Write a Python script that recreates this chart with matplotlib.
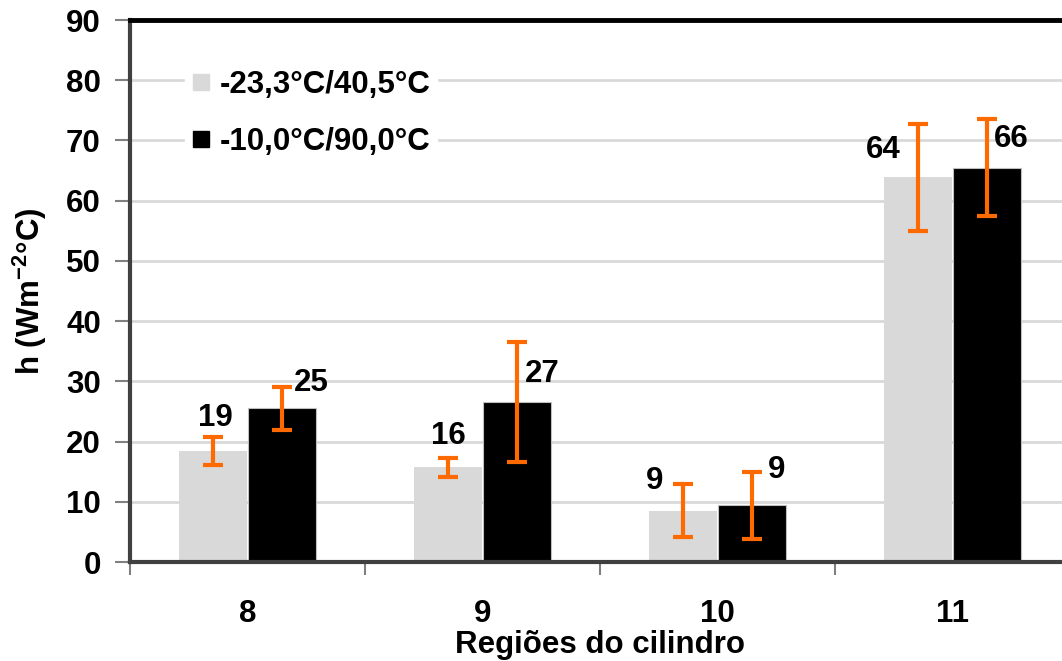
import matplotlib
matplotlib.use("Agg")
import matplotlib.pyplot as plt
import numpy as np
from matplotlib.lines import Line2D

# ---- data ----
categories = ["8", "9", "10", "11"]
series_names = ["-23,3°C/40,5°C", "-10,0°C/90,0°C"]
values_a = [18.4, 15.7, 8.5, 63.9]
values_b = [25.5, 26.6, 9.4, 65.5]
err_a = [2.3, 1.6, 4.4, 8.9]
err_b = [3.6, 10.0, 5.5, 8.0]
labels_a = ["19", "16", "9", "64"]
labels_b = ["25", "27", "9", "66"]
yticks = [0, 10, 20, 30, 40, 50, 60, 70, 80, 90]
xlabel = "Regiões do cilindro"
ylabel = "h (Wm$^{-2}$°C)"

# label offsets (pixels, relative to error-bar top)
offs_a = [(2, 19), (0, 22), (-29, 3), (-35, -26)]
offs_b = [(30, 4), (25, -32), (25, 2), (24, -20)]

plt.rcParams["font.family"] = ["Liberation Sans", "DejaVu Sans"]
plt.rcParams["font.weight"] = "bold"
plt.rcParams["mathtext.fontset"] = "custom"
plt.rcParams["mathtext.rm"] = "Liberation Sans:bold"
plt.rcParams["mathtext.default"] = "rm"

FS = 22.5
fig = plt.figure(figsize=(10.62, 6.61), dpi=100)
ax = fig.add_axes([130 / 1062, 1 - 562 / 661, 940 / 1062, 542 / 661])

x = np.arange(len(categories))
w = 0.29
off = 0.146
light = "#d9d9d9"
orange = "#ff6a00"

ax.bar(x - off, values_a, width=w, color=light, zorder=2)
ax.bar(x + off, values_b, width=w, color="black", edgecolor="#bfbfbf", linewidth=0.8, zorder=2)
ekw = dict(fmt="none", ecolor=orange, elinewidth=3, capsize=7, capthick=3, zorder=3)
ax.errorbar(x - off, values_a, yerr=err_a, **ekw)
ax.errorbar(x + off, values_b, yerr=err_b, **ekw)

px2pt = 72 / 100
for xi, v, e, lab, (dx, dy) in zip(x - off, values_a, err_a, labels_a, offs_a):
    ax.annotate(lab, xy=(xi, v + e), xytext=(dx * px2pt, dy * px2pt), textcoords="offset points",
                ha="center", va="center", fontsize=FS, fontweight="bold", zorder=4)
for xi, v, e, lab, (dx, dy) in zip(x + off, values_b, err_b, labels_b, offs_b):
    ax.annotate(lab, xy=(xi, v + e), xytext=(dx * px2pt, dy * px2pt), textcoords="offset points",
                ha="center", va="center", fontsize=FS, fontweight="bold", zorder=4)

ax.set_xlim(-0.5, 3.5)
ax.set_ylim(0, 90)
ax.set_yticks(yticks)
ax.set_yticklabels([str(t) for t in yticks], fontsize=FS, fontweight="bold")
ax.set_xticks(x)
ax.set_xticklabels(categories, fontsize=FS, fontweight="bold")
ax.set_xticks(np.arange(-0.5, 4.0, 1.0), minor=True)
ax.tick_params(axis="x", which="major", length=0, pad=27)
ax.tick_params(axis="x", which="minor", length=9, width=1.5, color="#808080", direction="out")
ax.tick_params(axis="y", which="major", length=11, width=1.5, color="#808080", pad=10)

ax.yaxis.grid(True, color="#d9d9d9", linewidth=2, zorder=0)
ax.set_axisbelow(True)

ax.spines["right"].set_visible(False)
ax.spines["top"].set_color("black")
ax.spines["top"].set_linewidth(3.5)
ax.spines["left"].set_color("#404040")
ax.spines["left"].set_linewidth(3)
ax.spines["bottom"].set_color("#404040")
ax.spines["bottom"].set_linewidth(3)

ax.set_xlabel(xlabel, fontsize=FS, fontweight="bold", labelpad=0)
ax.set_ylabel(ylabel, fontsize=FS, fontweight="bold", labelpad=12)

handles = [Line2D([], [], marker="s", linestyle="none", markersize=11, color=light),
           Line2D([], [], marker="s", linestyle="none", markersize=11, color="black")]
leg = ax.legend(handles, series_names, loc="upper left", bbox_to_anchor=(55 / 940, 1 - 44 / 542),
                frameon=True, prop={"weight": "bold", "size": FS}, handlelength=0.6,
                handletextpad=0.3, labelspacing=0.85, borderpad=0.2, borderaxespad=0)
leg.get_frame().set_facecolor("white")
leg.get_frame().set_edgecolor("white")
leg.get_frame().set_alpha(1)

fig.savefig("out.png", dpi=100)
